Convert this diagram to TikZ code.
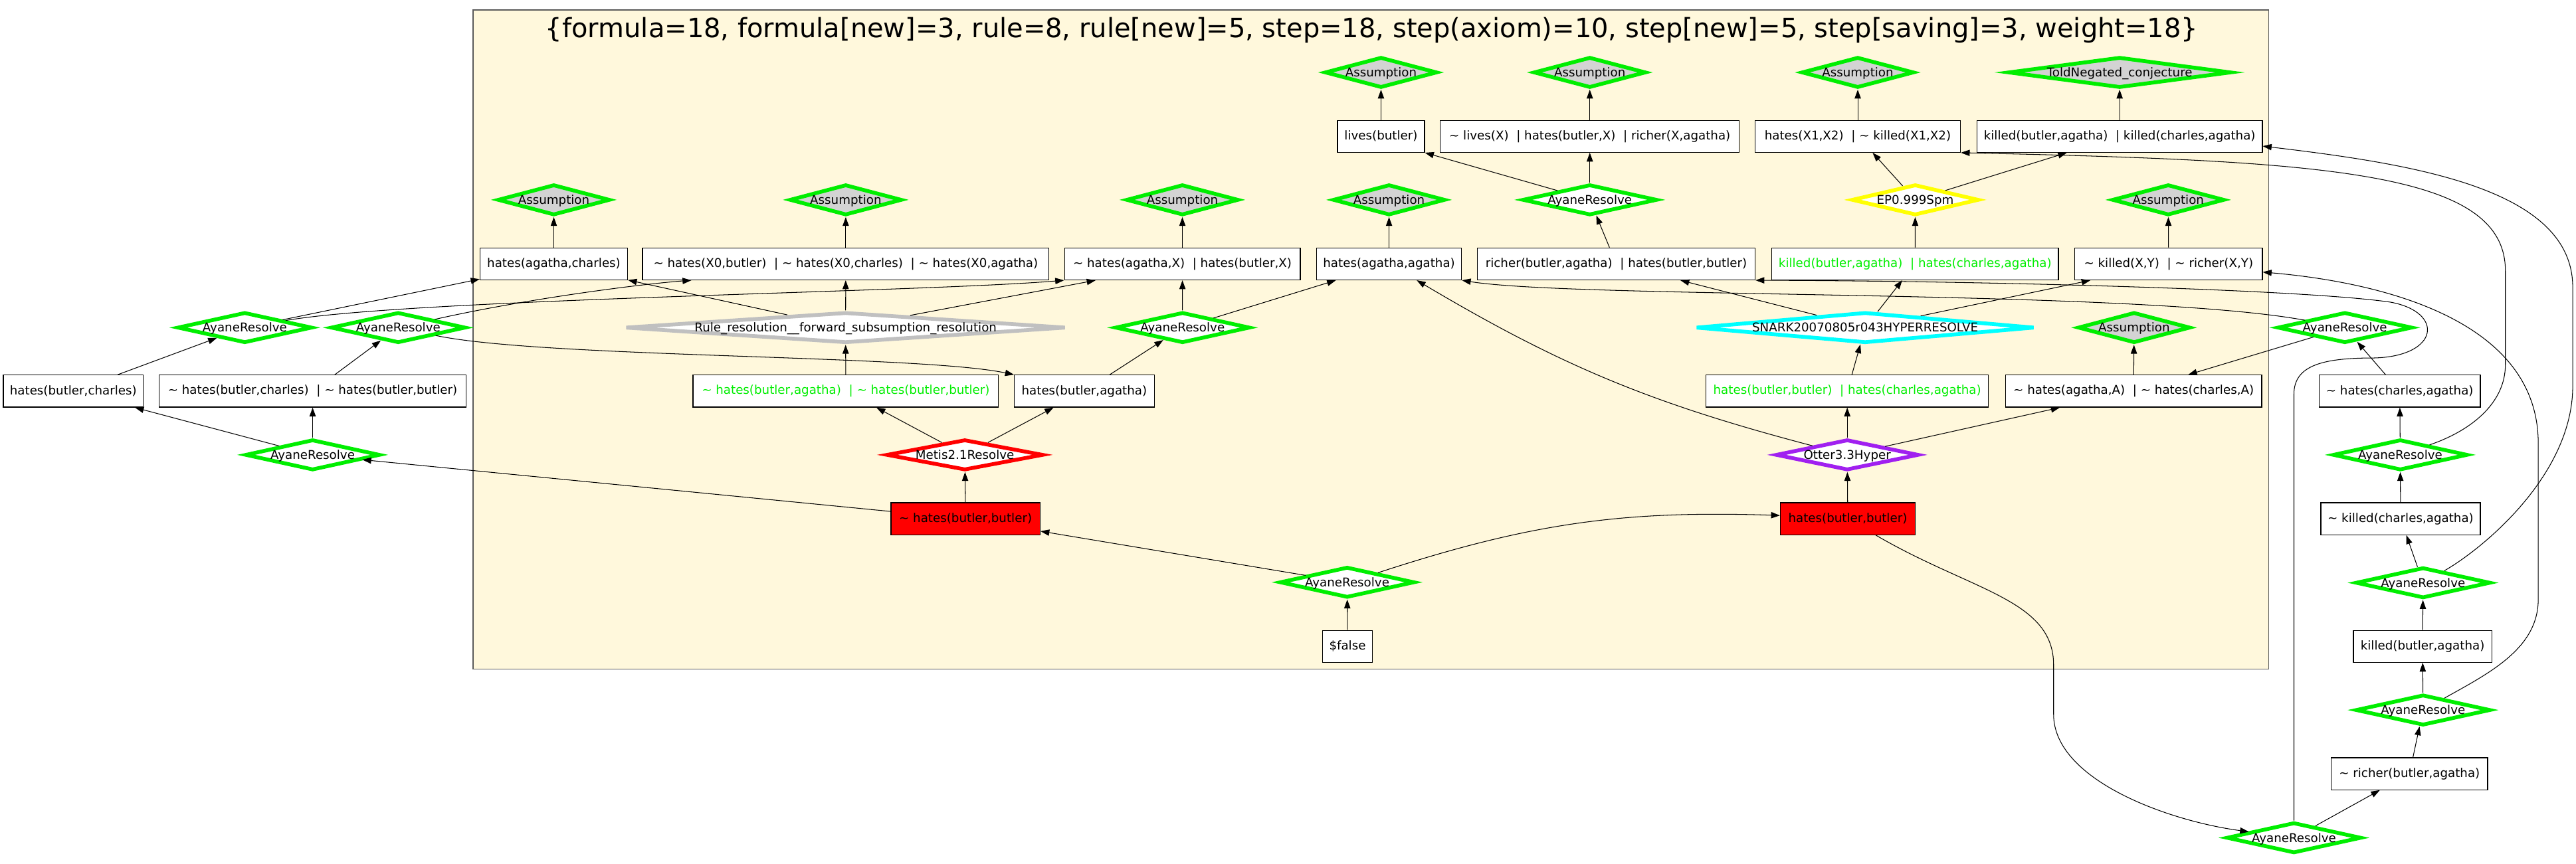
\documentclass[tikz,border=0pt]{standalone}
\usepackage{fontspec}
\setmainfont{DejaVu Sans}
\usetikzlibrary{arrows.meta,shapes.geometric,calc}
\definecolor{gok}{RGB}{0,238,0}
\definecolor{silk}{RGB}{255,248,220}
\definecolor{asmfill}{RGB}{211,211,211}
\definecolor{rulegray}{RGB}{192,192,192}
\definecolor{otterp}{RGB}{160,32,240}
\definecolor{snarkc}{RGB}{0,255,255}
\definecolor{epy}{RGB}{255,255,0}
\definecolor{framegray}{RGB}{90,90,90}
\tikzset{
  cl/.style={draw,line width=0.7pt,fill=white,minimum height=0.975cm,inner sep=1pt,font=\nf},
  cln/.style={cl,text=gok},
  clr/.style={cl,fill=red},
  inf/.style={diamond,draw,line width=3.3pt,fill=white,minimum height=0.935cm,inner sep=0pt,font=\nf},
  as/.style={inf,draw=gok,fill=asmfill,minimum width=3.42cm},
  ay/.style={inf,draw=gok,minimum width=4.1cm},
  dep/.style={line width=0.6pt,-{Triangle[length=2.7mm,width=1.9mm]}},
  prfbox/.style={draw=framegray,line width=0.9pt,fill=silk,inner sep=0pt}
}
\newcommand{\nf}{\fontsize{10.5}{12.6}\selectfont}
\newcommand{\ngt}{\textasciitilde\ }
\newcommand{\dl}[1]{\raisebox{-0.36em}[0pt][0pt]{\makebox[0pt]{#1}}}

\begin{document}
\begin{tikzpicture}[x=0.05cm,y=-0.05cm]
\useasboundingbox (0,0) rectangle (1568,526);
\node[prfbox,minimum width=54.65cm,minimum height=20.075cm] (prf) at (834.5,206.75) {};
\node[inner sep=0pt,font=\fontsize{23}{27}\selectfont] (ttl) at (835,18.5) {\{formula=18, formula[new]=3, rule=8, rule[new]=5, step=18, step(axiom)=10, step[new]=5, step[saving]=3, weight=18\}};

\node[as] (a1) at (840.6,44.1) {\dl{Assumption}};
\node[as] (a2) at (967.7,44.1) {\dl{Assumption}};
\node[as] (a3) at (1130.8,44.1) {\dl{Assumption}};
\node[as,minimum width=6.78cm] (tnc) at (1290.2,44.1) {\dl{ToldNegated\_conjecture}};
\node[cl,minimum width=2.65cm] (lb) at (840.6,83) {lives(butler)};
\node[cl,minimum width=9.1cm] (lx) at (967.7,83) {\ngt lives(X) \ | hates(butler,X) \ | richer(X,agatha)};
\node[cl,minimum width=6.25cm] (hx) at (1130.8,83) {hates(X1,X2) \ | \ngt killed(X1,X2)};
\node[cl,minimum width=8.685cm] (kk) at (1290.2,83) {killed(butler,agatha) \ | killed(charles,agatha)};

\node[as] (a4) at (337.1,121.7) {\dl{Assumption}};
\node[as] (a5) at (514.8,121.7) {\dl{Assumption}};
\node[as] (a6) at (719.7,121.7) {\dl{Assumption}};
\node[as] (a7) at (845.5,121.7) {\dl{Assumption}};
\node[ay] (rc) at (967.7,121.7) {\dl{AyaneResolve}};
\node[inf,draw=epy,minimum width=3.87cm] (ep) at (1165.8,121.7) {\dl{EP0.999Spm}};
\node[as] (a8) at (1319.8,121.7) {\dl{Assumption}};

\node[cl,minimum width=4.49cm] (hac) at (337.1,160.7) {hates(agatha,charles)};
\node[cl,minimum width=12.37cm] (hx0) at (514.8,160.7) {\ngt hates(X0,butler) \ | \ngt hates(X0,charles) \ | \ngt hates(X0,agatha)};
\node[cl,minimum width=7.175cm] (hax) at (719.7,160.7) {\ngt hates(agatha,X) \ | hates(butler,X)};
\node[cl,minimum width=4.41cm] (haa) at (845.5,160.7) {hates(agatha,agatha)};
\node[cl,minimum width=8.45cm] (rb) at (983.8,160.7) {richer(butler,agatha) \ | hates(butler,butler)};
\node[cln,minimum width=8.725cm] (kh) at (1165.7,160.7) {killed(butler,agatha) \ | hates(charles,agatha)};
\node[cl,minimum width=5.705cm] (kxy) at (1320,160.7) {\ngt killed(X,Y) \ | \ngt richer(X,Y)};

\node[ay] (l1) at (149,199.5) {\dl{AyaneResolve}};
\node[ay] (l2) at (242.4,199.5) {\dl{AyaneResolve}};
\node[inf,draw=rulegray,minimum width=13.4cm] (rule) at (514.7,199.5) {\dl{Rule\_resolution\_\_forward\_subsumption\_resolution}};
\node[ay] (rm) at (719.8,199.5) {\dl{AyaneResolve}};
\node[inf,draw=snarkc,minimum width=10.3cm] (snark) at (1135.3,199.5) {\dl{SNARK20070805r043HYPERRESOLVE}};
\node[as] (a9) at (1299,199.5) {\dl{Assumption}};
\node[ay] (r0) at (1427.3,199.5) {\dl{AyaneResolve}};

\node[cl,minimum width=4.255cm] (hbc) at (44.6,238.2) {hates(butler,charles)};
\node[cl,minimum width=9.335cm] (nhbc) at (190.3,238.2) {\ngt hates(butler,charles) \ | \ngt hates(butler,butler)};
\node[cln,minimum width=9.295cm] (gb1) at (514.8,238.2) {\ngt hates(butler,agatha) \ | \ngt hates(butler,butler)};
\node[cl,minimum width=4.255cm] (hba) at (660,238.2) {hates(butler,agatha)};
\node[cln,minimum width=8.59cm] (gb2) at (1124.4,238.2) {hates(butler,butler) \ | hates(charles,agatha)};
\node[cl,minimum width=7.795cm] (nha) at (1298.7,238.2) {\ngt hates(agatha,A) \ | \ngt hates(charles,A)};
\node[cl,minimum width=4.9cm] (nhc) at (1460.7,238.2) {\ngt hates(charles,agatha)};

\node[ay] (l3) at (190.3,277) {\dl{AyaneResolve}};
\node[inf,draw=red,minimum width=4.77cm] (metis) at (587.3,277) {\dl{Metis2.1Resolve}};
\node[inf,draw=otterp,minimum width=4.35cm] (otter) at (1124.4,277) {\dl{Otter3.3Hyper}};
\node[ay] (r1) at (1461,277) {\dl{AyaneResolve}};

\node[clr,minimum width=4.54cm] (nbb) at (587.7,315.9) {\ngt hates(butler,butler)};
\node[clr,minimum width=4.1cm] (bb) at (1124.7,315.9) {hates(butler,butler)};
\node[cl,minimum width=4.85cm] (nkc) at (1461.2,315.9) {\ngt killed(charles,agatha)};

\node[ay] (rf) at (820,354.6) {\dl{AyaneResolve}};
\node[ay] (r2) at (1474.9,354.9) {\dl{AyaneResolve}};
\node[cl,minimum width=1.51cm] (fls) at (820.2,393.6) {\$false};
\node[cl,minimum width=4.215cm] (kba) at (1474.6,393.6) {killed(butler,agatha)};
\node[ay] (r3) at (1474.9,432.4) {\dl{AyaneResolve}};
\node[cl,minimum width=4.76cm] (nrb) at (1466.6,471.2) {\ngt richer(butler,agatha)};
\node[ay] (br) at (1396.3,510.2) {\dl{AyaneResolve}};

\draw[dep] (lb) -- (a1); \draw[dep] (lx) -- (a2); \draw[dep] (hx) -- (a3); \draw[dep] (kk) -- (tnc);
\draw[dep] (hac) -- (a4); \draw[dep] (hx0) -- (a5); \draw[dep] (hax) -- (a6); \draw[dep] (haa) -- (a7);
\draw[dep] (kxy) -- (a8); \draw[dep] (nha) -- (a9);
\draw[dep] (rc) -- (lb.south east); \draw[dep] (rc) -- (lx); \draw[dep] (rb) -- (rc);
\draw[dep] (ep) -- (hx); \draw[dep] (ep) -- (kk); \draw[dep] (kh) -- (ep);
\draw[dep] (snark) -- (rb); \draw[dep] (snark) -- (kh); \draw[dep] (snark) -- (kxy); \draw[dep] (gb2) -- (snark);
\draw[dep] (otter) to[bend left=8] (haa); \draw[dep] (otter) -- (gb2); \draw[dep] (otter) -- (nha); \draw[dep] (bb) -- (otter);
\draw[dep] (r0) -- (nha); \draw[dep] (nhc) -- (r0);
\draw[dep] (r0) .. controls (1300,176) and (960,182) .. (haa.south east);
\draw[dep] (br) -- (1396.3,240) .. controls (1396.3,222) and (1415,218) .. (1445,218) .. controls (1485,217) and (1488,190) .. (1455,184) .. controls (1400,176) and (1200,171) .. (rb.south east);
\draw[dep] (br) -- (nrb); \draw[dep] (nrb) -- (r3); \draw[dep] (r3) -- (kba); \draw[dep] (kba) -- (r2);
\draw[dep] (r2) -- (nkc); \draw[dep] (nkc) -- (r1); \draw[dep] (r1) -- (nhc);
\draw[dep] (r1) .. controls (1505,262) and (1525,245) .. (1525,222) -- (1525,165) .. controls (1525,105) and (1420,98) .. (hx.south east);
\draw[dep] (r2) .. controls (1510,335) and (1566,290) .. (1566,235) -- (1566,175) .. controls (1566,115) and (1470,100) .. ($(kk.south east)!0.2!(kk.north east)$);
\draw[dep] (r3) .. controls (1515,410) and (1545,395) .. (1545,365) -- (1545,270) .. controls (1545,195) and (1450,172) .. ($(kxy.south east)!0.25!(kxy.north east)$);
\draw[dep] (bb) .. controls (1200,360) and (1250,365) .. (1250,405) -- (1250,435) .. controls (1250,475) and (1320,500) .. (br);
\draw[dep] (fls) -- (rf); \draw[dep] (rf) -- (nbb); \draw[dep] (rf) to[bend left=10] (bb);
\draw[dep] (nbb) -- (metis); \draw[dep] (nbb) -- (l3);
\draw[dep] (metis) -- (gb1); \draw[dep] (metis) -- (hba); \draw[dep] (gb1) -- (rule);
\draw[dep] (hba) -- (rm); \draw[dep] (rm) -- (hax); \draw[dep] (rm) -- (haa);
\draw[dep] (rule) -- (hx0); \draw[dep] (rule) -- (hac); \draw[dep] (rule) -- (hax);
\draw[dep] (l1) -- (hac);
\draw[dep] (l1) .. controls (250,182) and (560,178) .. (hax.south west);
\draw[dep] (l2) .. controls (320,182) and (390,173) .. ([xshift=1.5cm]hx0.south west);
\draw[dep] (l2) .. controls (330,218) and (560,216) .. (hba.north west);
\draw[dep] (hbc) -- (l1); \draw[dep] (nhbc) -- (l2);
\draw[dep] (l3) -- (hbc); \draw[dep] (l3) -- (nhbc);
\end{tikzpicture}
\end{document}
